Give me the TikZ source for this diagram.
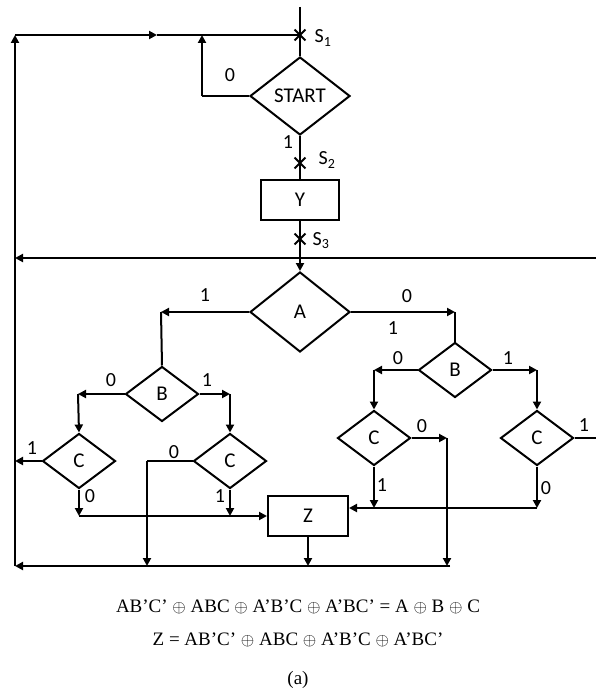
\documentclass[tikz,border=0pt]{standalone}
\usepackage{fontspec}
\setmainfont{Carlito}
\newfontfamily\eqfont{Liberation Serif}
\usetikzlibrary{shapes.geometric,shapes.misc,arrows.meta}

\begin{document}
\begin{tikzpicture}[x=1pt,y=-1pt,line width=2pt,
  every node/.style={font=\fontsize{21}{21}\selectfont},
  dec/.style={draw,diamond,minimum width=73pt,minimum height=55pt,inner sep=0pt},
  box/.style={draw,minimum width=78pt,minimum height=40pt,inner sep=0pt},
  flow/.style={-{Triangle[length=8pt,width=8pt]}},
  sw/.style={draw,cross out,minimum size=9pt,inner sep=0pt,line width=1.8pt},
  lbl/.style={inner sep=0pt,font=\fontsize{20}{20}\selectfont},
  eq/.style={font=\eqfont\fontsize{19}{19}\selectfont}]
\path[use as bounding box] (0,0) rectangle (596,693);

\node[dec,minimum width=100pt,minimum height=78pt] (start) at (300,96) {START};
\node[box] (y) at (300,200) {Y};
\node[dec,minimum width=100pt,minimum height=80pt] (a) at (300,312) {A};
\node[dec] (b1) at (162,394) {B};
\node[dec] (b2) at (455,370) {B};
\node[dec] (c1) at (79,461) {C};
\node[dec] (c2) at (230,461) {C};
\node[dec] (c3) at (374,438) {C};
\node[dec] (c4) at (537,438) {C};
\node[box,minimum width=80pt] (z) at (308,516) {Z};

\coordinate (top) at (300,7);
\coordinate (s1) at (300,35);
\coordinate (s2) at (300,163);
\coordinate (s3) at (300,239);
\coordinate (tl) at (15,35);
\coordinate (tm) at (157,35);
\coordinate (bl) at (15,566);
\coordinate (br) at (450,566);
\coordinate (st0) at (202,96);
\coordinate (st0t) at (202,35);
\coordinate (rl) at (596,258);
\coordinate (ll) at (15,258);
\coordinate (a1) at (161,312);
\coordinate (a0) at (455,312);
\coordinate (b10) at (78,394);
\coordinate (b11) at (230,394);
\coordinate (b20) at (374,370);
\coordinate (b21) at (537,370);
\coordinate (c11) at (15,461);
\coordinate (c10) at (79,516);
\coordinate (c20) at (147,461);
\coordinate (c20b) at (147,566);
\coordinate (c21) at (230,516);
\coordinate (c30) at (447,438);
\coordinate (c30b) at (447,566);
\coordinate (c31) at (374,508);
\coordinate (c40) at (537,508);
\coordinate (c41) at (596,438);
\coordinate (zb) at (308,566);

\draw (top) -- (s1) -- (start.north);
\draw[flow] (br) -- (bl);
\draw[flow] (bl) -- (tl);
\draw[flow] (tl) -- (tm);
\draw (tm) -- (s1);
\draw (start.west) -- (st0);
\draw[flow] (st0) -- (st0t);
\draw (start.south) -- (s2) -- (y.north);
\draw (y.south) -- (s3);
\draw[flow] (s3) -- (a.north);
\draw[flow] (rl) -- (ll);

\draw[flow] (a.west) -- (a1);
\draw (a1) -- (b1.north);
\draw[flow] (a.east) -- (a0);
\draw (a0) -- (b2.north);

\draw[flow] (b1.west) -- (b10);
\draw[flow] (b10) -- (c1.north);
\draw[flow] (b1.east) -- (b11);
\draw[flow] (b11) -- (c2.north);
\draw[flow] (b2.west) -- (b20);
\draw[flow] (b20) -- (c3.north);
\draw[flow] (b2.east) -- (b21);
\draw[flow] (b21) -- (c4.north);

\draw[flow] (c1.west) -- (c11);
\draw[flow] (c1.south) -- (c10);
\draw[flow] (c10) -- (z.west);
\draw (c2.west) -- (c20);
\draw[flow] (c20) -- (c20b);
\draw[flow] (c2.south) -- (c21);
\draw[flow] (c3.east) -- (c30);
\draw[flow] (c30) -- (c30b);
\draw[flow] (c3.south) -- (c31);
\draw[flow] (c4.south) -- (c40);
\draw[flow] (c40) -- (c40 -| z.east);
\draw (c4.east) -- (c41);
\draw[flow] (z.south) -- (zb);

\foreach \p/\n in {s1/x1,s2/x2,s3/x3}
  \node[sw] (\n) at (\p) {};

\node[lbl] (ls1) at (323,38) {S\textsubscript{1}};
\node[lbl] (ls2) at (327,160) {S\textsubscript{2}};
\node[lbl] (ls3) at (321,241) {S\textsubscript{3}};
\node[lbl] (lst0) at (230,75) {0};
\node[lbl] (lst1) at (288,142) {1};
\node[lbl] (la1) at (205,295) {1};
\node[lbl] (la0) at (407,296) {0};
\node[lbl] (la1b) at (393,328) {1};
\node[lbl] (lb10) at (111,380) {0};
\node[lbl] (lb11) at (207,380) {1};
\node[lbl] (lb20) at (398,358) {0};
\node[lbl] (lb21) at (508,358) {1};
\node[lbl] (lc11) at (32,448) {1};
\node[lbl] (lc10) at (90,496) {0};
\node[lbl] (lc20) at (174,452) {0};
\node[lbl] (lc21) at (220,496) {1};
\node[lbl] (lc30) at (422,426) {0};
\node[lbl] (lc31) at (382,485) {1};
\node[lbl] (lc41) at (584,425) {1};
\node[lbl] (lc40) at (546,488) {0};

\node[eq] (eq1) at (298,607) {AB’C’ $\oplus$ ABC $\oplus$ A’B’C $\oplus$ A’BC’ = A $\oplus$ B $\oplus$ C};
\node[eq] (eq2) at (298,640) {Z = AB’C’ $\oplus$ ABC $\oplus$ A’B’C $\oplus$ A’BC’};
\node[eq] (cap) at (298,680) {(a)};
\end{tikzpicture}
\end{document}
